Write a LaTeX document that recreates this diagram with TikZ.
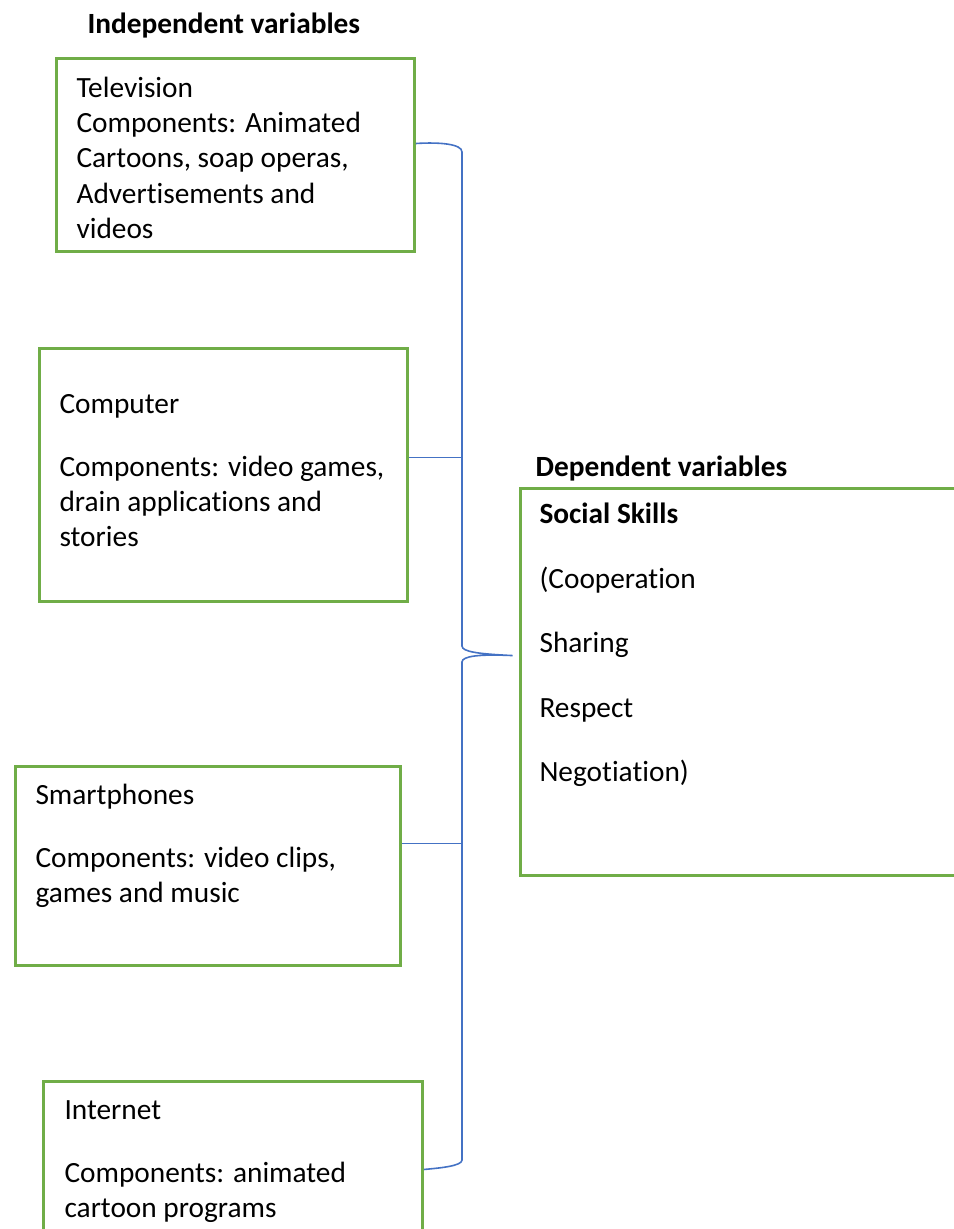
\documentclass[tikz,border=0pt]{standalone}
\usepackage{fontspec}
\setmainfont{Carlito}[RawFeature={-liga;-clig;-dlig;-calt;-ccmp;-rlig}]
\usetikzlibrary{calc}

\definecolor{boxgreen}{RGB}{112,173,71}
\definecolor{linkblue}{RGB}{68,114,196}

\begin{document}
\begin{tikzpicture}[x=0.375pt,y=-0.375pt,
  varbox/.style={draw=boxgreen, line width=1.1pt, inner sep=0pt, anchor=north west},
  vartext/.style={anchor=north west, inner sep=0pt, align=left,
    font=\fontsize{11pt}{13.2pt}\selectfont},
  headtext/.style={vartext, font=\fontsize{11pt}{13.2pt}\selectfont\bfseries},
  link/.style={draw=linkblue, line width=0.6pt}]
  \useasboundingbox (0,0) rectangle (954,1229);
  \clip (0,0) rectangle (954,1229);

  % headings
  \node[headtext] (indep) at (87,8.4) {\strut Independent variables};
  \node[headtext] (dep) at (535,451.4) {\strut Dependent variables};

  % independent variables
  \node[varbox, minimum width=134.25pt, minimum height=72.375pt] (tv) at (55,57) {};
  \node[vartext] (tvtext) at (76,72.4) {\strut Television\\Components: Animated\\Cartoons, soap operas,\\Advertisements and\\videos};

  \node[varbox, minimum width=138pt, minimum height=94.875pt] (comp) at (38,347) {};
  \node[vartext] (comptext) at (59,388.4) {\strut Computer\\[10.3pt]Components: video games,\\drain applications and\\stories};

  \node[varbox, minimum width=144.375pt, minimum height=74.625pt] (smart) at (14,765) {};
  \node[vartext] (smarttext) at (35,779.4) {\strut Smartphones\\[10.3pt]Components: video clips,\\games and music};

  \node[varbox, minimum width=142.125pt, minimum height=66pt] (inet) at (42,1080) {};
  \node[vartext] (inettext) at (64,1094.4) {\strut Internet\\[10.3pt]Components: animated\\cartoon programs};

  % dependent variable
  \node[varbox, minimum width=180pt, minimum height=145.125pt] (social) at (519,487) {};
  \node[vartext] (socialtext) at (539,498.4) {\strut\textbf{Social Skills}\\[11pt](Cooperation\\[11pt]Sharing\\[11pt]Respect\\[11pt]Negotiation)};

  % brace joining the four boxes
  \coordinate (tip) at ([xshift=-2.4pt,yshift=9.9pt]social.west);
  \coordinate (btop) at (462,152);
  \coordinate (bmid1) at (462,646);
  \coordinate (bmid2) at (462,662);
  \coordinate (bbot) at (462,1160);
  \coordinate (compend) at ([yshift=6.6pt]comp.east);
  \coordinate (smartend) at ([yshift=8.4pt]smart.east);
  \draw[link] ([yshift=4.3pt]tv.east) .. controls (440,142) and (462,144) .. (btop)
    -- (bmid1) .. controls (462,652) and (480,654) .. (tip)
    .. controls (480,654) and (462,656) .. (bmid2)
    -- (bbot) .. controls (462,1166) and (440,1168) .. (inet.east);
  \draw[link] (compend) -- (compend -| btop);
  \draw[link] (smartend) -- (smartend -| btop);

\end{tikzpicture}
\end{document}
